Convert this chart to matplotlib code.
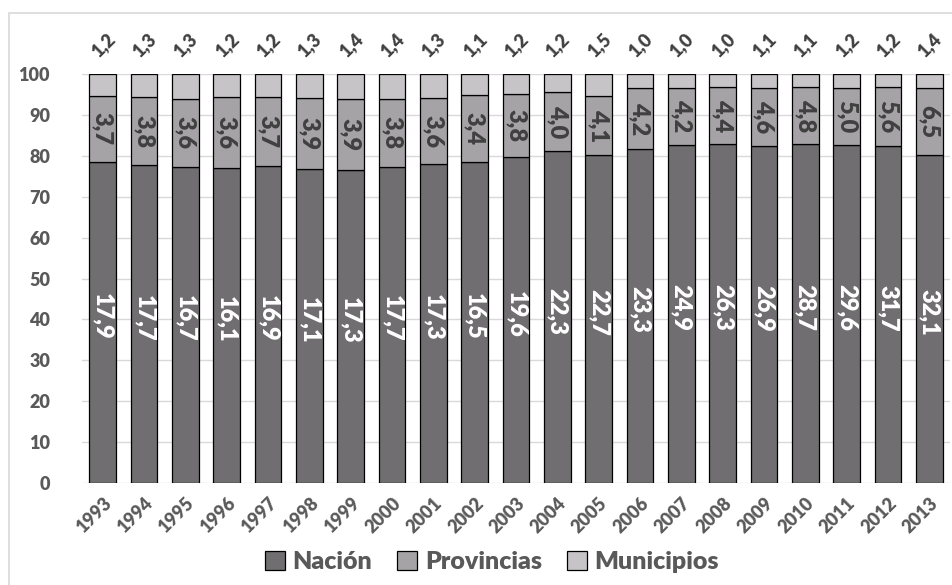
import matplotlib
matplotlib.use("Agg")
import matplotlib.pyplot as plt
import numpy as np
from matplotlib.patches import Rectangle, Patch

years = [str(y) for y in range(1993, 2014)]
nacion = [17.9, 17.7, 16.7, 16.1, 16.9, 17.1, 17.3, 17.7, 17.3, 16.5, 19.6,
          22.3, 22.7, 23.3, 24.9, 26.3, 26.9, 28.7, 29.6, 31.7, 32.1]
provincias = [3.7, 3.8, 3.6, 3.6, 3.7, 3.9, 3.9, 3.8, 3.6, 3.4, 3.8,
              4.0, 4.1, 4.2, 4.2, 4.4, 4.6, 4.8, 5.0, 5.6, 6.5]
municipios = [1.2, 1.3, 1.3, 1.2, 1.2, 1.3, 1.4, 1.4, 1.3, 1.1, 1.2,
              1.2, 1.5, 1.0, 1.0, 1.0, 1.1, 1.1, 1.2, 1.2, 1.4]
series_names = ["Nación", "Provincias", "Municipios"]
yticks = [0, 10, 20, 30, 40, 50, 60, 70, 80, 90, 100]

colors = ["#706e70", "#a5a3a6", "#c6c4c7"]
plt.rcParams['font.family'] = ['Lato', 'DejaVu Sans']
plt.rcParams['font.weight'] = 'heavy'
WT = "heavy"

fig = plt.figure(figsize=(9.53, 5.85), dpi=100)
ax = fig.add_axes([82/953, 1-483/585, (950-82)/953, (483-74)/585])

n = np.array(nacion); p = np.array(provincias); m = np.array(municipios)
tot = n + p + m
np_, pp, mp = n/tot*100, p/tot*100, m/tot*100
x = np.arange(len(years))
w = 0.65
ax.bar(x, np_, w, color=colors[0], edgecolor="black", linewidth=0.9, zorder=3)
ax.bar(x, pp, w, bottom=np_, color=colors[1], edgecolor="black", linewidth=0.9, zorder=3)
ax.bar(x, mp, w, bottom=np_+pp, color=colors[2], edgecolor="black", linewidth=0.9, zorder=3)

fmt = lambda v: f"{v:.1f}".replace(".", ",")
for i in range(len(years)):
    ax.text(x[i], np_[i]/2 + 1.5, fmt(nacion[i]), rotation=270, ha="center", va="center",
            color="white", fontsize=17, fontweight=WT, zorder=4)
    ax.text(x[i], np_[i] + pp[i]/2, fmt(provincias[i]), rotation=270, ha="center", va="center",
            color="#404040", fontsize=17, fontweight=WT, zorder=4)
    ax.text(x[i], 107, fmt(municipios[i]), rotation=45, ha="center", va="center",
            color="#404040", fontsize=13, fontweight=WT, clip_on=False)

ax.set_xlim(-0.5, 20.5)
ax.set_ylim(0, 100)
ax.set_yticks(yticks)
ax.set_yticklabels([str(t) for t in yticks], fontsize=13, fontweight=WT, color="#595959")
ax.tick_params(axis="y", length=0, pad=23)
ax.set_xticks(x)
ax.set_xticklabels(years, rotation=45, ha="right", rotation_mode="anchor",
                   fontsize=13, fontweight=WT, color="#595959")
ax.tick_params(axis="x", length=0, pad=8)
ax.yaxis.grid(True, color="#d9d9d9", linewidth=1, zorder=0)
for s in ax.spines.values():
    s.set_visible(False)

handles = [Patch(facecolor=c, edgecolor="black", linewidth=0.9) for c in colors]
fig.legend(handles, series_names, loc="center", bbox_to_anchor=(492/953, 1-562/585),
           ncol=3, frameon=False, handlelength=0.8, handleheight=0.8,
           prop={"size": 18, "weight": WT}, labelcolor="#595959",
           columnspacing=1.0, handletextpad=0.3)

fig.add_artist(Rectangle((9/953, -0.01), 1, 1-13/585+0.01, transform=fig.transFigure,
                         fill=False, edgecolor="#d9d9d9", linewidth=1.2))
fig.savefig("out.png", dpi=100)
